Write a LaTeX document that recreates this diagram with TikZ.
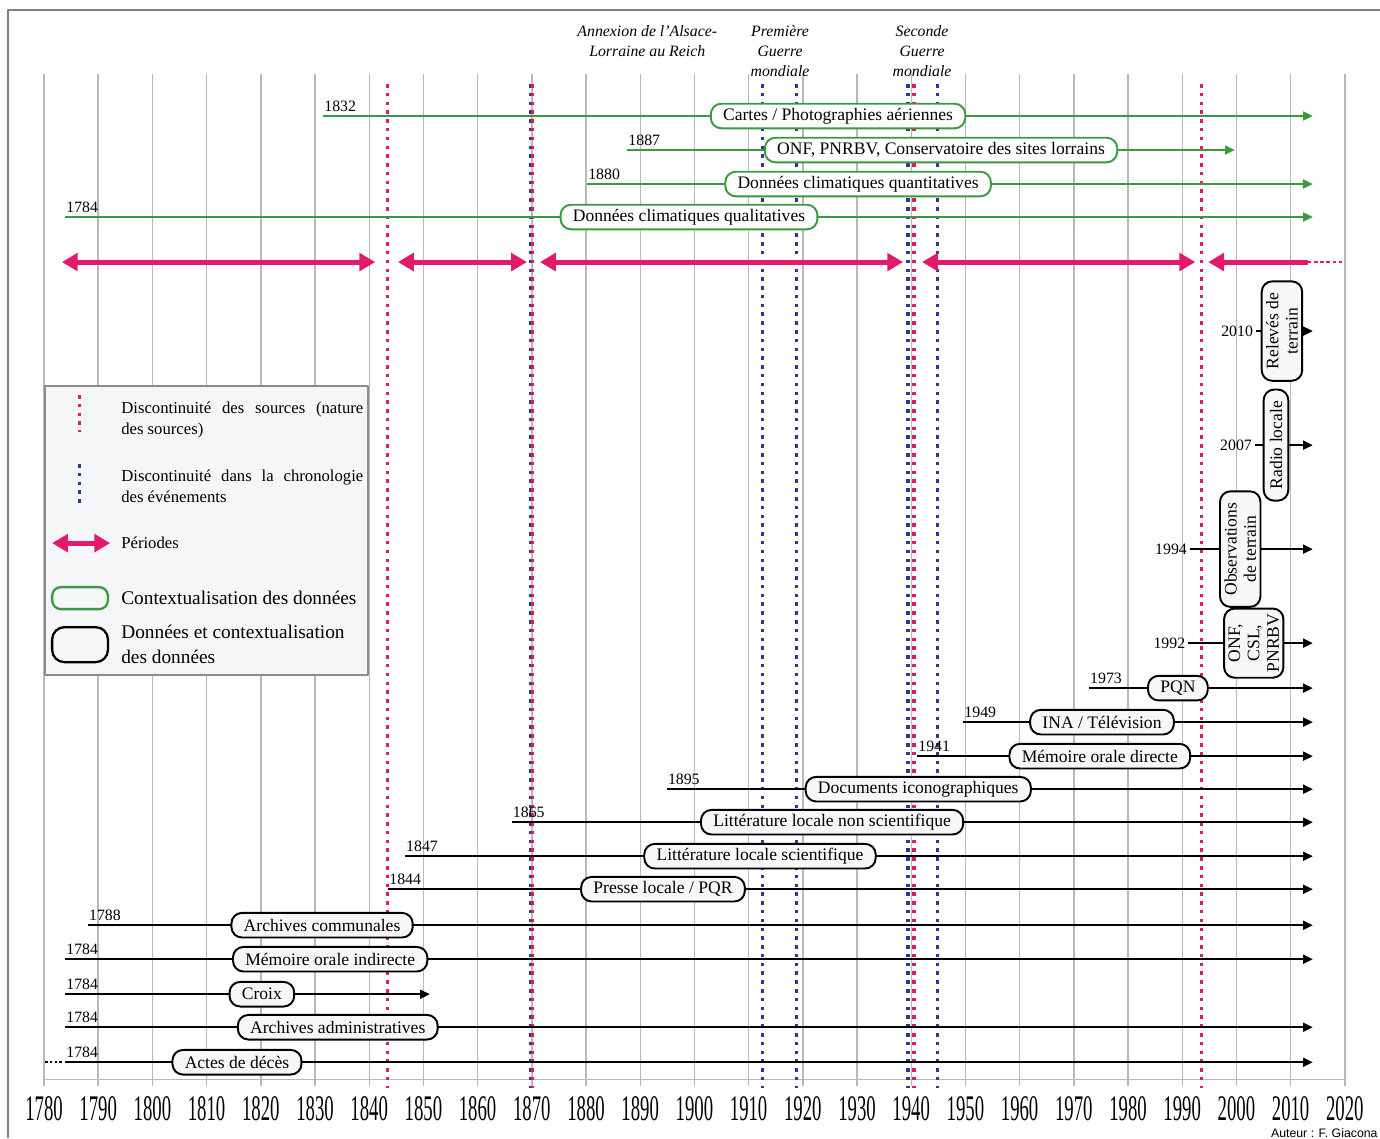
\documentclass[tikz,border=0pt]{standalone}
\usepackage{fontspec}
\setmainfont{Liberation Serif}
\setsansfont{Liberation Sans}
\usetikzlibrary{arrows.meta}
\definecolor{grille}{HTML}{B8B8B8}
\definecolor{vert}{HTML}{3A9A3F}
\definecolor{rouge}{HTML}{D81E5B}
\definecolor{periode}{HTML}{E31A6B}
\definecolor{bleu}{HTML}{2B3990}
\definecolor{fondleg}{HTML}{F4F6F8}
\newcommand{\etiq}[1]{\scalebox{0.52}[1]{\fontsize{20.5}{22}\selectfont #1}}
\tikzset{
  quad/.style={grille,line width=0.8pt},
  gbox/.style={draw=vert,line width=1.1pt,fill=white,rounded corners=6pt,inner xsep=7pt,inner ysep=1pt,minimum height=14pt},
  bbox/.style={draw=black,line width=1.1pt,fill=black!3,rounded corners=6pt,inner xsep=7pt,inner ysep=1pt,minimum height=14pt},
  vbox/.style={bbox,rotate=90,align=center,inner xsep=6.5pt,inner ysep=2.5pt,font=\fontsize{10}{11}\selectfont},
  gline/.style={vert,line width=1.1pt,-{Triangle[length=5.5pt,width=5pt]}},
  bline/.style={black,line width=1.2pt,-{Triangle[length=5.5pt,width=5pt]}},
  yr/.style={anchor=south west,inner xsep=0.5pt,inner ysep=2.5pt,font=\fontsize{9}{10}\selectfont},
  yrl/.style={anchor=east,inner sep=1.5pt,font=\fontsize{9}{10}\selectfont},
  per/.style={periode,line width=2.8pt,{Triangle[length=9pt,width=10pt]}-{Triangle[length=9pt,width=10pt]}},
  rdot/.style={rouge,line width=1.8pt,dash pattern=on 2pt off 3pt},
  bdot/.style={bleu,line width=1.8pt,dash pattern=on 2pt off 3pt},
  haut/.style={align=center,font=\fontsize{9}{11.4}\selectfont\itshape},
  legtxt/.style={anchor=north west,inner sep=0pt,text width=4.84cm,align=justify,font=\fontsize{9.5}{12}\selectfont},
}
\begin{document}
\begin{tikzpicture}[x=0.1084cm,y=-0.02cm,xshift=-192.072cm,line join=round,font=\fontsize{10}{12}\selectfont]
\useasboundingbox (1771.882,0) rectangle (2026.49,1138);
%========================
\draw[black!50,line width=1.1pt] (2026.49,10) -- (1773.36,10) -- (1773.36,1138);
\foreach \an in {1780,1790,...,2020}{
  \draw[quad] (\an,74) -- (\an,1086);
  \node[inner sep=0pt] (x\an) at (\an,1108) {\etiq{\an}};
}
\draw[quad] (1780,1079) -- (2020,1079);
\node[anchor=east,inner sep=0pt,font=\sffamily\fontsize{7}{8}\selectfont] (aut) at (2026.1,1133) {Auteur : F. Giacona};
%======================== discontinuites
\draw[bdot] (1869.85,84) -- (1869.85,1088);
\draw[bdot] (1912.5,84) -- (1912.5,1088);
\draw[bdot] (1918.9,84) -- (1918.9,1088);
\draw[bdot] (1939.4,84) -- (1939.4,1088);
\draw[bdot] (1944.9,84) -- (1944.9,1088);
\draw[rdot] (1843.3,84) -- (1843.3,1088);
\draw[rdot] (1870.2,84) -- (1870.2,1088);
\draw[rdot] (1940.5,84) -- (1940.5,1088);
\draw[rdot] (1993.5,84) -- (1993.5,1088);
\node[haut] (t1) at (1891.3,41) {Annexion de l'Alsace-\\Lorraine au Reich};
\node[haut] (t2) at (1915.8,51) {Première\\Guerre\\mondiale};
\node[haut] (t3) at (1942.0,51) {Seconde\\Guerre\\mondiale};
%======================== periodes
\draw[per] (1783.3,262) -- (1841.1,262);
\draw[per] (1845.3,262) -- (1869.1,262);
\draw[per] (1871.5,262) -- (1938.5,262);
\draw[per] (1942.0,262) -- (1992.4,262);
\draw[per,{Triangle[length=9pt,width=10pt]}-] (1994.8,262) -- (2013.2,262);
\draw[periode,line width=1.2pt,dash pattern=on 2pt off 1.5pt] (2013.2,262) -- (2019.7,262);
%======================== contextualisation
\path (1831.5,116) coordinate (s1) (2014.1,116) coordinate (e1); \draw[gline] (s1) -- (e1);
\node[gbox] (b1) at (1926.5,116) {Cartes / Photographies aériennes}; \node[yr] (a1) at (s1) {1832};
\path (1887.6,150) coordinate (s2) (1999.7,150) coordinate (e2); \draw[gline] (s2) -- (e2);
\node[gbox] (b2) at (1945.5,150) {ONF, PNRBV, Conservatoire des sites lorrains}; \node[yr] (a2) at (s2) {1887};
\path (1880.2,184) coordinate (s3) (2014.1,184) coordinate (e3); \draw[gline] (s3) -- (e3);
\node[gbox] (b3) at (1930.2,184) {Données climatiques quantitatives}; \node[yr] (a3) at (s3) {1880};
\path (1783.9,217) coordinate (s4) (2014.1,217) coordinate (e4); \draw[gline] (s4) -- (e4);
\node[gbox] (b4) at (1899.0,217) {Données climatiques qualitatives}; \node[yr] (a4) at (s4) {1784};
%======================== donnees
\path (2003.6,331) coordinate (s17) (2014.1,331) coordinate (e17); \draw[bline] (s17) -- (e17);
\node[vbox] (b17) at (2008.4,331) {Relevés de\\terrain}; \node[yrl] (a17) at (s17) {2010};
\path (2003.4,445) coordinate (s18) (2014.1,445) coordinate (e18); \draw[bline] (s18) -- (e18);
\node[vbox] (b18) at (2007.3,445) {Radio locale}; \node[yrl] (a18) at (s18) {2007};
\path (1991.4,549) coordinate (s19) (2014.1,549) coordinate (e19); \draw[bline] (s19) -- (e19);
\node[vbox] (b19) at (2000.7,549) {Observations\\de terrain}; \node[yrl] (a19) at (s19) {1994};
\path (1991.1,643) coordinate (s20) (2014.1,643) coordinate (e20); \draw[bline] (s20) -- (e20);
\node[vbox,inner xsep=3pt] (b20) at (2003.2,643) {ONF,\\CSL,\\PNRBV}; \node[yrl] (a20) at (s20) {1992};
\path (1972.8,688) coordinate (s14) (2014.1,688) coordinate (e14); \draw[bline] (s14) -- (e14);
\node[bbox] (b14) at (1989.2,688) {PQN}; \node[yr] (a14) at (s14) {1973};
\path (1949.6,722) coordinate (s15) (2014.1,722) coordinate (e15); \draw[bline] (s15) -- (e15);
\node[bbox] (b15) at (1975.2,722) {INA / Télévision}; \node[yr] (a15) at (s15) {1949};
\path (1941.1,756) coordinate (s16) (2014.1,756) coordinate (e16); \draw[bline] (s16) -- (e16);
\node[bbox] (b16) at (1974.8,756) {Mémoire orale directe}; \node[yr] (a16) at (s16) {1941};
\path (1894.9,789) coordinate (s5) (2014.1,789) coordinate (e5); \draw[bline] (s5) -- (e5);
\node[bbox] (b5) at (1941.3,789) {Documents iconographiques}; \node[yr] (a5) at (s5) {1895};
\path (1866.3,822) coordinate (s6) (2014.1,822) coordinate (e6); \draw[bline] (s6) -- (e6);
\node[bbox] (b6) at (1925.4,822) {Littérature locale non scientifique}; \node[yr] (a6) at (s6) {1865};
\path (1846.6,856) coordinate (s7) (2014.1,856) coordinate (e7); \draw[bline] (s7) -- (e7);
\node[bbox] (b7) at (1912.1,856) {Littérature locale scientifique}; \node[yr] (a7) at (s7) {1847};
\path (1843.5,889) coordinate (s8) (2014.1,889) coordinate (e8); \draw[bline] (s8) -- (e8);
\node[bbox] (b8) at (1894.2,889) {Presse locale / PQR}; \node[yr] (a8) at (s8) {1844};
\path (1788.1,925) coordinate (s9) (2014.1,925) coordinate (e9); \draw[bline] (s9) -- (e9);
\node[bbox] (b9) at (1831.3,925) {Archives communales}; \node[yr] (a9) at (s9) {1788};
\path (1783.9,959) coordinate (s10) (2014.1,959) coordinate (e10); \draw[bline] (s10) -- (e10);
\node[bbox] (b10) at (1832.8,959) {Mémoire orale indirecte}; \node[yr] (a10) at (s10) {1784};
\path (1783.9,994) coordinate (s11) (1851.2,994) coordinate (e11); \draw[bline] (s11) -- (e11);
\node[bbox] (b11) at (1820.2,994) {Croix}; \node[yr] (a11) at (s11) {1784};
\path (1783.9,1027) coordinate (s12) (2014.1,1027) coordinate (e12); \draw[bline] (s12) -- (e12);
\node[bbox] (b12) at (1834.2,1027) {Archives administratives}; \node[yr] (a12) at (s12) {1784};
\path (1783.9,1062) coordinate (s13) (2014.1,1062) coordinate (e13) (1780.2,1062) coordinate (d13); \draw[bline] (s13) -- (e13);
\draw[black,line width=1.2pt,dash pattern=on 1.5pt off 1.2pt] (d13) -- ([xshift=-2pt]s13);
\node[bbox] (b13) at (1815.6,1062) {Actes de décès}; \node[yr] (a13) at (s13) {1784};
%======================== legende
\draw[draw=black!45,fill=fondleg,line width=1pt] (1780.2,386) rectangle (1839.8,675);
\draw[rdot] (1786.6,395) -- (1786.6,432);
\node[legtxt] (l1) at (1794.2,401) {Discontinuité des sources (nature\linebreak des sources)};
\draw[bdot] (1786.6,464) -- (1786.6,505);
\node[legtxt] (l2) at (1794.2,469) {Discontinuité dans la chronologie\linebreak des événements};
\draw[per] (1781.5,543) -- (1792.2,543);
\node[anchor=west,inner sep=0pt,font=\fontsize{9.5}{12}\selectfont] (l3) at (1794.2,543) {Périodes};
\draw[vert,line width=1.3pt,rounded corners=5pt] (1781.5,587) rectangle (1791.8,609);
\node[anchor=west,inner sep=0pt,font=\fontsize{11}{14}\selectfont] (l4) at (1794.2,598) {Contextualisation des données};
\draw[black,line width=1.3pt,rounded corners=7pt] (1781.5,627) rectangle (1791.8,662);
\node[anchor=west,inner sep=0pt,align=left,font=\fontsize{11}{14.2}\selectfont] (l5) at (1794.2,644) {Données et contextualisation\\des données};
%========================
\end{tikzpicture}
\end{document}
